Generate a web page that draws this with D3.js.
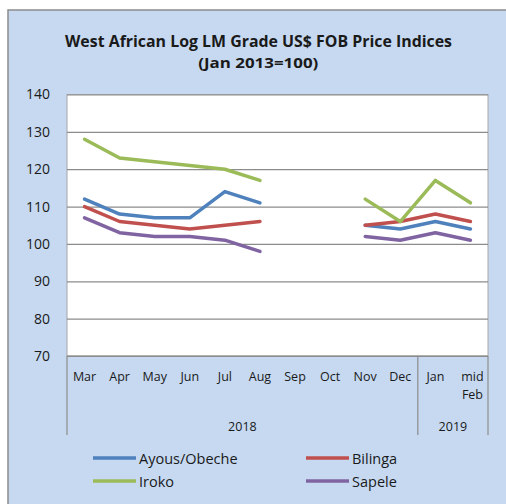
<!DOCTYPE html>
<html>
<head>
<meta charset="utf-8">
<script src="https://cdn.jsdelivr.net/npm/d3@7/dist/d3.min.js"></script>
<style>
  body { margin: 0; background: #ffffff; }
  svg text { font-family: "Open Sans", "Liberation Sans", sans-serif; fill: #1a1a1a; }
</style>
</head>
<body>
<svg id="chart" width="506" height="504"></svg>
<script>
// ==================================
// data
// ==================================
var months = ["Mar", "Apr", "May", "Jun", "Jul", "Aug", "Sep", "Oct", "Nov", "Dec", "Jan", "mid|Feb"];
var years = [
	{ label: "2018", from: "Mar", to: "Dec" },
	{ label: "2019", from: "Jan", to: "mid|Feb" }
];
var yTicks = [70, 80, 90, 100, 110, 120, 130, 140];

var ayous   = [112, 108, 107, 107, 114, 111, null, null, 105, 104, 106, 104];
var bilinga = [110, 106, 105, 104, 105, 106, null, null, 105, 106, 108, 106];
var iroko   = [128, 123, 122, 121, 120, 117, null, null, 112, 106, 117, 111];
var sapele  = [107, 103, 102, 102, 101,  98, null, null, 102, 101, 103, 101];

var seriesNames = ["Ayous/Obeche", "Bilinga", "Iroko", "Sapele"];
var seriesColors = ["#4f81bd", "#c0504d", "#9bbb59", "#8064a2"];

// constants
// ==========
var W = 506, H = 504;
var PLOT_L = 67, PLOT_R = 488, PLOT_T = 94.5, PLOT_B = 356;
var GROUP_B = 435;

var svg = d3.select("#chart");

// chart frame
svg.append("rect")
	.attr("x", 8).attr("y", 10)
	.attr("width", W).attr("height", H)
	.attr("fill", "#c6d9f1")
	.attr("stroke", "#8c8c8c")
	.attr("stroke-width", 1.5);

// title
svg.append("text")
	.attr("x", 258.5).attr("y", 46.5)
	.attr("text-anchor", "middle")
	.attr("font-size", "16px")
	.attr("font-weight", "bold")
	.attr("textLength", 387)
	.attr("lengthAdjust", "spacingAndGlyphs")
	.text("West African Log LM Grade US$ FOB Price Indices");
svg.append("text")
	.attr("x", 258.3).attr("y", 68)
	.attr("text-anchor", "middle")
	.attr("font-size", "14px")
	.attr("font-weight", "bold")
	.attr("textLength", 120)
	.attr("lengthAdjust", "spacingAndGlyphs")
	.text("(Jan 2013=100)");

// scales
var x = d3.scaleBand().domain(months).range([PLOT_L, PLOT_R]);
var y = d3.scaleLinear().domain([70, 140]).range([PLOT_B, PLOT_T]);
function cx(m) { return x(m) + x.bandwidth() / 2; }

// plot area
svg.append("rect")
	.attr("x", PLOT_L).attr("y", PLOT_T)
	.attr("width", PLOT_R - PLOT_L).attr("height", PLOT_B - PLOT_T)
	.attr("fill", "#ffffff")
	.attr("stroke", "#a6a6a6");

// grid + y labels
var yAxis = d3.axisLeft(y).tickValues(yTicks).tickSize(-(PLOT_R - PLOT_L)).tickPadding(17);
var yg = svg.append("g").attr("transform", "translate(" + PLOT_L + ",0)").call(yAxis);
yg.select(".domain").remove();
yg.selectAll(".tick line").attr("stroke", "#8c8c8c").attr("stroke-width", 1.2);
yg.selectAll(".tick text").attr("font-size", "14px").attr("fill", "#1a1a1a");

// category axis
var xg = svg.append("g");
xg.append("line")
	.attr("x1", PLOT_L).attr("x2", PLOT_R)
	.attr("y1", PLOT_B).attr("y2", PLOT_B)
	.attr("stroke", "#8c8c8c").attr("stroke-width", 1.2);

var dividers = [PLOT_L, x("Jan"), PLOT_R];
xg.selectAll("line.div").data(dividers).enter().append("line")
	.attr("class", "div")
	.attr("x1", function(d) { return d; }).attr("x2", function(d) { return d; })
	.attr("y1", PLOT_B).attr("y2", GROUP_B)
	.attr("stroke", "#8c8c8c").attr("stroke-width", 1.2);

xg.selectAll("text.month").data(months).enter().append("text")
	.attr("class", "month")
	.attr("text-anchor", "middle")
	.attr("font-size", "12.5px")
	.each(function(m) {
		var parts = m.split("|");
		var t = d3.select(this);
		parts.forEach(function(p, i) {
			t.append("tspan")
				.attr("x", cx(m) + (parts.length > 1 ? 2 : 0))
				.attr("y", 381 + i * 18)
				.text(p);
		});
	});

xg.selectAll("text.year").data(years).enter().append("text")
	.attr("class", "year")
	.attr("x", function(d) { return (x(d.from) + x(d.to) + x.bandwidth()) / 2; })
	.attr("y", 431)
	.attr("text-anchor", "middle")
	.attr("font-size", "12.5px")
	.text(function(d) { return d.label; });

// lines
var seriesData = [ayous, bilinga, iroko, sapele];
var line = d3.line()
	.defined(function(d) { return d != null; })
	.x(function(d, i) { return cx(months[i]); })
	.y(function(d) { return y(d); });

svg.selectAll("path.series").data(seriesData).enter().append("path")
	.attr("class", "series")
	.attr("d", line)
	.attr("fill", "none")
	.attr("stroke", function(d, i) { return seriesColors[i]; })
	.attr("stroke-width", 3.5)
	.attr("stroke-linejoin", "round")
	.attr("stroke-linecap", "round");

// legend
var legPos = [[93, 458], [306, 458], [93, 481], [306, 481]];
var leg = svg.selectAll("g.legend").data(seriesNames).enter().append("g")
	.attr("class", "legend")
	.attr("transform", function(d, i) { return "translate(" + legPos[i][0] + "," + legPos[i][1] + ")"; });
leg.append("line")
	.attr("x1", 0).attr("x2", 43)
	.attr("stroke", function(d, i) { return seriesColors[i]; })
	.attr("stroke-width", 3.5);
leg.append("text")
	.attr("x", 46).attr("y", 5.5)
	.attr("font-size", "14.5px")
	.text(function(d) { return d; });
</script>
</body>
</html>
